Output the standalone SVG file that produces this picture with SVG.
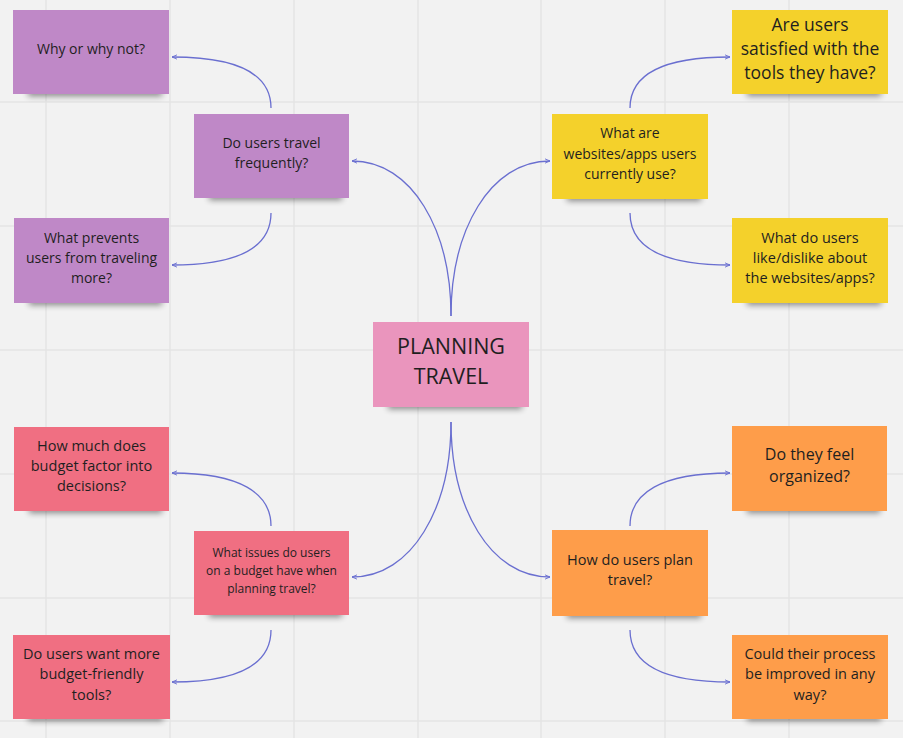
<svg xmlns="http://www.w3.org/2000/svg" width="903" height="738" viewBox="0 0 903 738">
<defs>
<style>
.grid{stroke:#e4e4e4;stroke-width:1.5}
.sh{fill:#000;opacity:0.45;filter:url(#blur)}
.t{font-family:"Open Sans","Noto Sans",sans-serif;fill:#1f1f1f;text-anchor:middle}
.c{fill:none;stroke:#6a6fd0;stroke-width:1.3;marker-end:url(#arr)}
.violet{fill:#bf88c7}
.yellow{fill:#f4d12b}
.pink{fill:#ea95bd}
.red{fill:#f06f82}
.orange{fill:#fe9d4a}
</style>
<filter id="blur" x="-20%" y="-100%" width="140%" height="300%"><feGaussianBlur stdDeviation="3"/></filter>
<marker id="arr" viewBox="0 0 8 8" refX="7" refY="4" markerWidth="6" markerHeight="6" markerUnits="userSpaceOnUse" orient="auto">
<path d="M0,1 L7,4 L0,7" fill="none" stroke="#6a6fd0" stroke-width="1.2"/>
</marker>
</defs>
<rect width="903" height="738" fill="#f2f2f2"/>
<g id="grid">
<line class="grid" x1="46" y1="0" x2="46" y2="738"/>
<line class="grid" x1="170" y1="0" x2="170" y2="738"/>
<line class="grid" x1="294" y1="0" x2="294" y2="738"/>
<line class="grid" x1="418" y1="0" x2="418" y2="738"/>
<line class="grid" x1="541" y1="0" x2="541" y2="738"/>
<line class="grid" x1="665" y1="0" x2="665" y2="738"/>
<line class="grid" x1="789" y1="0" x2="789" y2="738"/>
<line class="grid" x1="0" y1="102" x2="903" y2="102"/>
<line class="grid" x1="0" y1="226" x2="903" y2="226"/>
<line class="grid" x1="0" y1="350" x2="903" y2="350"/>
<line class="grid" x1="0" y1="474" x2="903" y2="474"/>
<line class="grid" x1="0" y1="598" x2="903" y2="598"/>
<line class="grid" x1="0" y1="721" x2="903" y2="721"/>
</g>
<g id="connectors">
<path class="c" d="M451,316 C451,230 412,161 352,161"/>
<path class="c" d="M451,316 C451,230 490,161 550,161"/>
<path class="c" d="M451,422 C451,508 412,577 352,577"/>
<path class="c" d="M451,422 C451,508 490,577 550,577"/>
<path class="c" d="M271,108 C271,75 240,57 172,57"/>
<path class="c" d="M271,213 C271,246 240,265 172,265"/>
<path class="c" d="M630,108 C630,75 661,57 730,57"/>
<path class="c" d="M630,213 C630,246 661,265 730,265"/>
<path class="c" d="M271,526 C271,493 240,473 172,473"/>
<path class="c" d="M271,630 C271,663 240,682 172,682"/>
<path class="c" d="M630,526 C630,493 661,473 730,473"/>
<path class="c" d="M630,630 C630,663 661,682 730,682"/>
</g>
<g id="n1"><rect class="sh" x="28" y="88" width="134" height="8"/><rect class="violet" x="13" y="10" width="156" height="84"/>
<text class="t" font-size="14" x="91" y="54">Why or why not?</text></g>
<g id="n2"><rect class="sh" x="209" y="192" width="133" height="8"/><rect class="violet" x="194" y="114" width="155" height="84"/>
<text class="t" font-size="14" x="271.5" y="148">Do users travel</text><text class="t" font-size="14" x="271.5" y="168">frequently?</text></g>
<g id="n3"><rect class="sh" x="29" y="297" width="133" height="8"/><rect class="violet" x="14" y="218" width="155" height="85"/>
<text class="t" font-size="14" x="91.5" y="243">What prevents</text><text class="t" font-size="14" x="91.5" y="263">users from traveling</text><text class="t" font-size="14" x="91.5" y="283">more?</text></g>
<g id="n4"><rect class="sh" x="747" y="88" width="134" height="8"/><rect class="yellow" x="732" y="10" width="156" height="84"/>
<text class="t" font-size="17.5" x="810" y="31">Are users</text><text class="t" font-size="17.5" x="810" y="55">satisfied with the</text><text class="t" font-size="17.5" x="810" y="79">tools they have?</text></g>
<g id="n5"><rect class="sh" x="567" y="193" width="134" height="8"/><rect class="yellow" x="552" y="114" width="156" height="85"/>
<text class="t" font-size="14" x="630" y="138">What are</text><text class="t" font-size="14" x="630" y="159">websites/apps users</text><text class="t" font-size="14" x="630" y="179">currently use?</text></g>
<g id="n6"><rect class="sh" x="747" y="297" width="134" height="8"/><rect class="yellow" x="732" y="218" width="156" height="85"/>
<text class="t" font-size="14.5" x="810" y="243">What do users</text><text class="t" font-size="14.5" x="810" y="263">like/dislike about</text><text class="t" font-size="14.5" x="810" y="283">the websites/apps?</text></g>
<g id="center"><rect class="sh" x="388" y="401" width="134" height="8"/><rect class="pink" x="373" y="322" width="156" height="85"/>
<text class="t" font-size="21.5" x="451" y="354">PLANNING</text><text class="t" font-size="21.5" x="451" y="384">TRAVEL</text></g>
<g id="n7"><rect class="sh" x="29" y="505" width="133" height="8"/><rect class="red" x="14" y="427" width="155" height="84"/>
<text class="t" font-size="14.5" x="91.5" y="451">How much does</text><text class="t" font-size="14.5" x="91.5" y="471">budget factor into</text><text class="t" font-size="14.5" x="91.5" y="491">decisions?</text></g>
<g id="n8"><rect class="sh" x="209" y="609" width="133" height="8"/><rect class="red" x="194" y="531" width="155" height="84"/>
<text class="t" font-size="12" x="271.5" y="557">What issues do users</text><text class="t" font-size="12" x="271.5" y="575">on a budget have when</text><text class="t" font-size="12" x="271.5" y="593">planning travel?</text></g>
<g id="n9"><rect class="sh" x="28" y="713" width="135" height="8"/><rect class="red" x="13" y="635" width="157" height="84"/>
<text class="t" font-size="14.5" x="91.5" y="659">Do users want more</text><text class="t" font-size="14.5" x="91.5" y="679">budget-friendly</text><text class="t" font-size="14.5" x="91.5" y="700">tools?</text></g>
<g id="n10"><rect class="sh" x="747" y="505" width="133" height="8"/><rect class="orange" x="732" y="426" width="155" height="85"/>
<text class="t" font-size="16" x="809.5" y="460">Do they feel</text><text class="t" font-size="16" x="809.5" y="482">organized?</text></g>
<g id="n11"><rect class="sh" x="567" y="610" width="134" height="8"/><rect class="orange" x="552" y="530" width="156" height="86"/>
<text class="t" font-size="14.5" x="630" y="565">How do users plan</text><text class="t" font-size="14.5" x="630" y="585">travel?</text></g>
<g id="n12"><rect class="sh" x="747" y="713" width="134" height="8"/><rect class="orange" x="732" y="635" width="156" height="84"/>
<text class="t" font-size="14.5" x="810" y="659">Could their process</text><text class="t" font-size="14.5" x="810" y="679">be improved in any</text><text class="t" font-size="14.5" x="810" y="700">way?</text></g>
</svg>
